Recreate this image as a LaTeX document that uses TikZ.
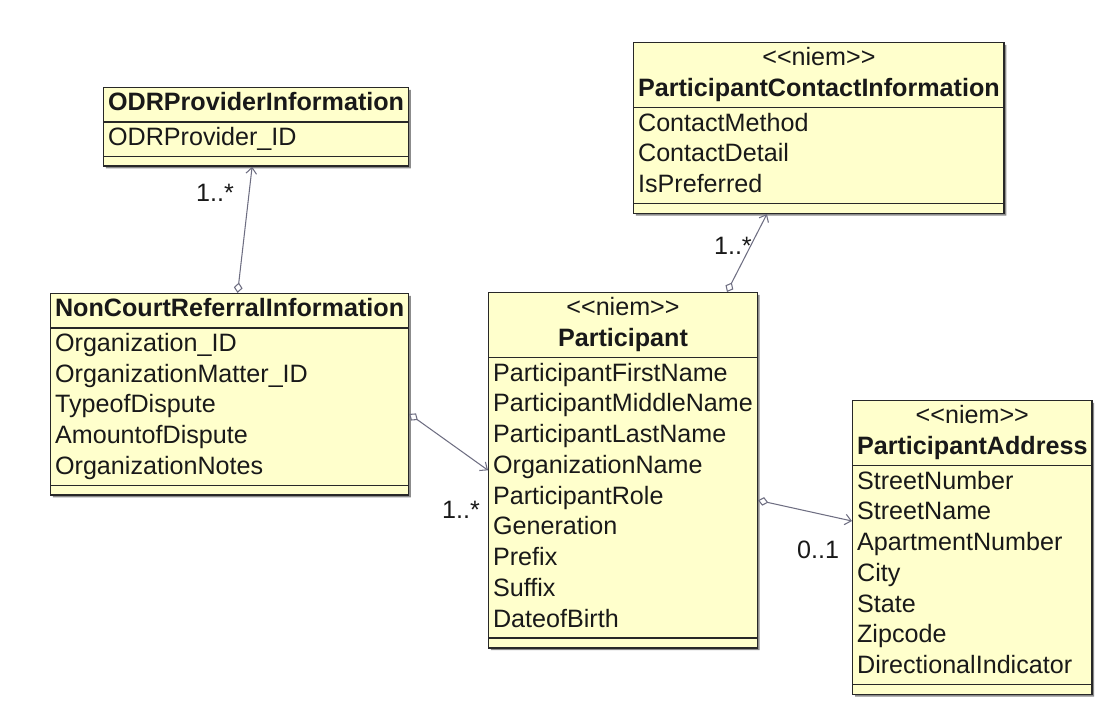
\documentclass[tikz,border=0pt]{standalone}
\usepackage{fontspec}
\setmainfont{Liberation Sans}
\usetikzlibrary{arrows.meta, shapes.multipart, shadows}

\definecolor{classfill}{RGB}{255,255,204}
\definecolor{classline}{RGB}{40,40,40}
\definecolor{assocline}{RGB}{110,110,130}
\definecolor{inktext}{RGB}{25,25,25}

\newcommand{\niem}{\textless\kern0pt\textless niem\textgreater\kern0pt\textgreater}

\tikzset{
  umlclass/.style={rectangle split, rectangle split parts=3,
    rectangle split part align={center,left,left},
    draw=classline, line width=0.8pt, fill=classfill, text=inktext,
    font=\fontsize{14.3}{17.5}\selectfont,
    inner xsep=2.5pt, inner ysep=0.6pt,
    drop shadow={shadow xshift=1.3pt, shadow yshift=-1.3pt, fill=black!45, opacity=1},
    anchor=north west},
  assoc/.style={draw=assocline, line width=0.6pt,
    {Diamond[open, length=6pt, width=5pt, fill=white]}-{Straight Barb[length=3.5pt, width=6pt]}},
  mult/.style={font=\fontsize{14.3}{17.5}\selectfont, text=inktext, inner sep=0pt}
}
\newcommand{\opspart}{\nodepart{three}\phantom{\rule{1pt}{3.6pt}}}

\begin{document}
\begin{tikzpicture}
\useasboundingbox (0,0) rectangle (21.92,-14.12);

% classes
\node[umlclass] (odr) at (2.06,-1.74)
  {\begin{tabular}{@{}c@{}}\bfseries ODRProviderInformation\end{tabular}
   \nodepart{two}\begin{tabular}{@{}l@{}}ODRProvider\_ID\end{tabular}\opspart};

\node[umlclass] (contact) at (12.66,-0.84)
  {\begin{tabular}{@{}c@{}}\niem\\ \bfseries ParticipantContactInformation\end{tabular}
   \nodepart{two}\begin{tabular}{@{}l@{}}ContactMethod\\ ContactDetail\\ IsPreferred\end{tabular}\opspart};

\node[umlclass] (referral) at (1.0,-5.86)
  {\begin{tabular}{@{}c@{}}\bfseries NonCourtReferralInformation\end{tabular}
   \nodepart{two}\begin{tabular}{@{}l@{}}Organization\_ID\\ OrganizationMatter\_ID\\ TypeofDispute\\
     AmountofDispute\\ OrganizationNotes\end{tabular}\opspart};

\node[umlclass] (participant) at (9.76,-5.84)
  {\begin{tabular}{@{}c@{}}\niem\\ \bfseries Participant\end{tabular}
   \nodepart{two}\begin{tabular}{@{}l@{}}ParticipantFirstName\\ ParticipantMiddleName\\ ParticipantLastName\\
     OrganizationName\\ ParticipantRole\\ Generation\\ Prefix\\ Suffix\\ DateofBirth\end{tabular}\opspart};

\node[umlclass] (address) at (17.04,-8.0)
  {\begin{tabular}{@{}c@{}}\niem\\ \bfseries ParticipantAddress\end{tabular}
   \nodepart{two}\begin{tabular}{@{}l@{}}StreetNumber\\ StreetName\\ ApartmentNumber\\ City\\ State\\
     Zipcode\\ DirectionalIndicator\end{tabular}\opspart};

% associations
\draw[assoc] ([xshift=0.16cm]referral.north) --
  node[mult, pos=1, xshift=-0.74cm, yshift=-0.52cm] (odrmult) {1..*} ([xshift=-0.08cm]odr.south);
\draw[assoc] ([xshift=-0.62cm]participant.north east) --
  node[mult, pos=1, xshift=-0.68cm, yshift=-0.64cm] (contactmult) {1..*} ([xshift=-1.04cm]contact.south);
\draw[assoc] ([yshift=-0.39cm]referral.east) --
  node[mult, pos=1, xshift=-0.54cm, yshift=-0.8cm] (partmult) {1..*} (participant.west);
\draw[assoc] ([yshift=-0.6cm]participant.east) --
  node[mult, pos=1, xshift=-0.68cm, yshift=-0.58cm] (addrmult) {0..1} ([yshift=0.53cm]address.west);
\end{tikzpicture}
\end{document}
